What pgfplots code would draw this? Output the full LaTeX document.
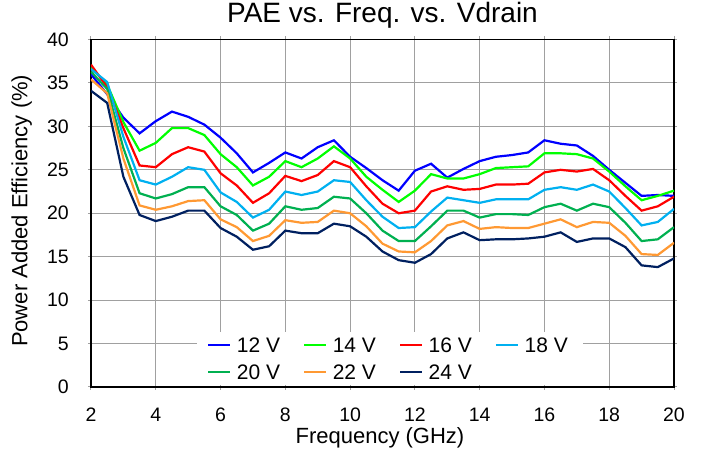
\documentclass[border=0pt]{standalone}
\usepackage{pgfplots}
\pgfplotsset{compat=1.18}
\usepackage{pgfplotstable}
\usepackage{fontspec}
\setmainfont{Liberation Sans}
\definecolor{c12}{HTML}{0000FF}
\definecolor{c14}{HTML}{00FF00}
\definecolor{c16}{HTML}{FF0000}
\definecolor{c18}{HTML}{00B0F0}
\definecolor{c20}{HTML}{00B050}
\definecolor{c22}{HTML}{FF9933}
\definecolor{c24}{HTML}{002060}
\definecolor{gridc}{HTML}{A0A0A0}
\pgfplotstableread{
f    v12  v14  v16  v18  v20  v22  v24
2    36.0 36.8 37.1 36.6 36.3 35.4 34.1
2.5  33.7 34.8 34.5 35.1 34.3 33.8 32.7
3    31.0 30.5 29.8 28.8 27.5 26.3 24.2
3.5  29.2 27.2 25.5 23.8 22.3 20.9 19.8
4    30.6 28.1 25.3 23.3 21.7 20.4 19.1
4.5  31.7 29.8 26.8 24.2 22.2 20.8 19.6
5    31.1 29.8 27.6 25.3 23.0 21.4 20.3
5.5  30.2 29.0 27.1 25.0 23.0 21.5 20.3
6    28.7 26.8 24.6 22.4 20.8 19.3 18.3
6.5  26.9 25.3 23.2 21.3 19.8 18.4 17.3
7    24.7 23.2 21.2 19.5 18.0 16.8 15.8
7.5  25.8 24.2 22.3 20.4 18.8 17.4 16.2
8    27.0 26.0 24.3 22.5 20.8 19.2 18.0
8.5  26.3 25.3 23.7 22.1 20.4 18.9 17.7
9    27.6 26.3 24.4 22.5 20.6 19.0 17.7
9.5  28.4 27.7 26.0 23.8 21.9 20.3 18.8
10   26.5 26.3 25.3 23.6 21.7 20.0 18.5
10.5 25.2 24.2 23.1 21.5 20.0 18.5 17.3
11   23.8 22.7 21.1 19.6 18.0 16.5 15.6
11.5 22.6 21.3 20.0 18.3 16.8 15.6 14.6
12   24.9 22.6 20.3 18.4 16.8 15.5 14.3
12.5 25.7 24.5 22.5 20.2 18.5 16.8 15.3
13   24.1 24.0 23.1 21.8 20.3 18.6 17.1
13.5 25.1 24.0 22.7 21.5 20.3 19.1 17.8
14   26.0 24.5 22.8 21.2 19.5 18.2 16.9
14.5 26.5 25.2 23.3 21.6 19.9 18.4 17.0
15   26.7 25.3 23.3 21.6 19.9 18.3 17.0
15.5 27.0 25.4 23.4 21.6 19.8 18.3 17.1
16   28.4 26.9 24.7 22.7 20.7 18.8 17.3
16.5 28.0 26.9 25.0 23.0 21.1 19.3 17.8
17   27.8 26.8 24.8 22.7 20.3 18.4 16.7
17.5 26.6 26.3 25.1 23.3 21.1 19.0 17.1
18   25.0 24.8 23.8 22.5 20.7 18.9 17.1
18.5 23.5 23.1 22.0 20.6 18.9 17.4 16.1
19   22.0 21.5 20.3 18.6 16.8 15.3 14.0
19.5 22.1 22.0 20.8 19.0 17.0 15.2 13.8
20   22.0 22.6 21.9 20.5 18.4 16.6 14.8
}\datatable
\begin{document}
\begin{tikzpicture}
\useasboundingbox (-91pt,-65pt) rectangle (611pt,387pt);
\begin{axis}[
  scale only axis,
  width=583pt, height=347.5pt,
  xmin=2, xmax=20, ymin=0, ymax=40,
  xtick={2,4,...,20}, ytick={0,5,...,40},
  grid=major,
  major grid style={gridc, line width=1.1pt},
  axis line style={black, line width=1.4pt},
  tick align=outside, major tick length=3pt,
  tick style={gridc, line width=1pt},
  /pgf/number format/assume math mode=true,
  ticklabel style={font=\fontsize{19.5}{20}\selectfont},
  xticklabel style={anchor=base, inner sep=0pt, yshift=-32pt},
  yticklabel style={anchor=east, inner sep=0pt, xshift=-19pt},
  title={PAE vs. Freq. vs. Vdrain},
  title style={at={(axis description cs:0.5,1.0322)}, anchor=base, inner sep=0pt, font=\fontsize{28}{28}\selectfont},
  xlabel={Frequency (GHz)},
  xlabel style={at={(axis description cs:0.4957,-0.162)}, anchor=base, inner sep=0pt, font=\fontsize{22}{22}\selectfont},
  ylabel={Power Added Efficiency (\%)},
  ylabel style={at={(axis description cs:-0.109,0.507)}, anchor=base, inner sep=0pt, font=\fontsize{22}{22}\selectfont},
  legend columns=4,
  legend style={at={(axis description cs:0.1818,0.004)}, anchor=south west, draw=none, fill=white,
    font=\fontsize{21}{21}\selectfont, inner xsep=10pt, inner ysep=4pt,
    nodes={inner xsep=5.5pt, inner ysep=2pt, text height=15pt, text depth=0pt},
    row sep=7.7pt,
    /tikz/every even column/.append style={column sep=17.5pt}},
  legend image code/.code={\draw[#1] (0pt,0pt) -- (22pt,0pt);},
  every axis plot/.append style={line width=2.2pt, no markers},
]
\addplot[c12] table[x=f, y=v12] {\datatable};
\addplot[c14] table[x=f, y=v14] {\datatable};
\addplot[c16] table[x=f, y=v16] {\datatable};
\addplot[c18] table[x=f, y=v18] {\datatable};
\addplot[c20] table[x=f, y=v20] {\datatable};
\addplot[c22] table[x=f, y=v22] {\datatable};
\addplot[c24] table[x=f, y=v24] {\datatable};
\legend{12 V, 14 V, 16 V, 18 V, 20 V, 22 V, 24 V}
\end{axis}
\end{tikzpicture}
\end{document}
